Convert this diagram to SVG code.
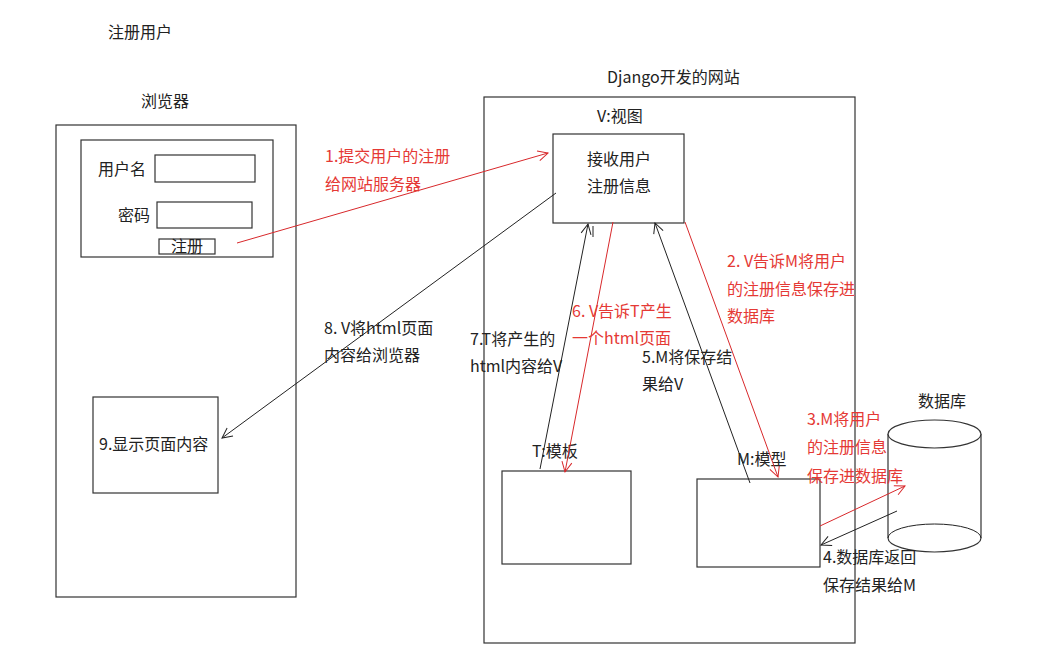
<svg xmlns="http://www.w3.org/2000/svg" width="1039" height="667" viewBox="0 0 1039 667">
  <style>
    text { font-family: "Noto Sans CJK SC", "Noto Sans", sans-serif; font-size: 16px; fill: #222; }
    text.red { fill: #e53935; }
    .box { fill: #fff; stroke: #333; stroke-width: 1.2; }
    .ln { fill: none; stroke: #222; stroke-width: 1; }
    .lr { fill: none; stroke: #d8282b; stroke-width: 1; }
  </style>
  <defs>
    <marker id="ah-k" viewBox="0 0 12 12" refX="11" refY="6" markerWidth="12" markerHeight="12" markerUnits="userSpaceOnUse" orient="auto">
      <path d="M1,1 L11,6 L1,11" fill="none" stroke="#222" stroke-width="1"/>
    </marker>
    <marker id="ah-r" viewBox="0 0 12 12" refX="11" refY="6" markerWidth="12" markerHeight="12" markerUnits="userSpaceOnUse" orient="auto">
      <path d="M1,1 L11,6 L1,11" fill="none" stroke="#d8282b" stroke-width="1"/>
    </marker>
  </defs>
  <rect width="1039" height="667" fill="#fff"/>

  <text x="108" y="38">注册用户</text>

  <!-- browser side -->
  <g id="browser">
    <text x="141" y="107">浏览器</text>
    <rect class="box" x="56" y="125" width="240" height="472"/>
  </g>
  <g id="form">
    <rect class="box" x="81" y="140" width="192" height="117"/>
    <text x="98" y="175">用户名</text>
    <rect class="box" x="155" y="155" width="100" height="27"/>
    <text x="118" y="221">密码</text>
    <rect class="box" x="157" y="202" width="95" height="26"/>
    <rect class="box" x="159" y="239" width="56" height="15"/>
    <text x="171" y="252">注册</text>
  </g>
  <g id="display">
    <rect class="box" x="93" y="397" width="125" height="96"/>
    <text x="99" y="450">9.显示页面内容</text>
  </g>

  <!-- site side -->
  <g id="site">
    <text x="607" y="83">Django开发的网站</text>
    <rect class="box" x="484" y="97" width="371" height="546"/>
  </g>
  <g id="view">
    <text x="597" y="122">V:视图</text>
    <rect class="box" x="553" y="134" width="131" height="89"/>
    <text x="587" y="165">接收用户</text>
    <text x="587" y="192">注册信息</text>
  </g>
  <g id="template">
    <text x="532" y="457">T:模板</text>
    <rect class="box" x="502" y="471" width="129" height="93"/>
  </g>
  <g id="model">
    <text x="737" y="465">M:模型</text>
    <rect class="box" x="697" y="479" width="123" height="88"/>
  </g>
  <g id="database">
    <text x="918" y="407">数据库</text>
    <path class="box" d="M888,434 L888,538 A46.5,14 0 0 0 981,538 L981,434"/>
    <ellipse class="box" cx="934.5" cy="434" rx="46.5" ry="14"/>
    <path class="ln" d="M888,538 A46.5,14 0 0 1 981,538"/>
  </g>

  <!-- connectors -->
  <g id="connectors">
    <line class="lr" x1="237" y1="243" x2="548" y2="153" marker-end="url(#ah-r)"/>
    <line class="ln" x1="556" y1="193" x2="222" y2="438" marker-end="url(#ah-k)"/>
    <line class="lr" x1="685" y1="222" x2="778" y2="477" marker-end="url(#ah-r)"/>
    <line class="lr" x1="820" y1="526" x2="905" y2="486" marker-end="url(#ah-r)"/>
    <line class="ln" x1="897" y1="511" x2="821" y2="545" marker-end="url(#ah-k)"/>
    <line class="ln" x1="750" y1="483" x2="655" y2="223" marker-end="url(#ah-k)"/>
    <line class="lr" x1="613" y1="222" x2="565" y2="472" marker-end="url(#ah-r)"/>
    <line class="ln" x1="540" y1="469" x2="588" y2="224" marker-end="url(#ah-k)"/>
    <line class="ln" x1="593" y1="226" x2="593" y2="237"/>
  </g>

  <!-- connector labels -->
  <g id="labels">
    <text class="red" x="325" y="162">1.提交用户的注册</text>
    <text class="red" x="325" y="190">给网站服务器</text>
    <text x="324" y="334">8. V将html页面</text>
    <text x="324" y="361">内容给浏览器</text>
    <text x="470" y="345">7.T将产生的</text>
    <text x="470" y="372">html内容给V</text>
    <text class="red" x="572" y="317">6. V告诉T产生</text>
    <text class="red" x="572" y="344">一个html页面</text>
    <text x="642" y="363">5.M将保存结</text>
    <text x="642" y="390">果给V</text>
    <text class="red" x="727" y="267">2. V告诉M将用户</text>
    <text class="red" x="727" y="295">的注册信息保存进</text>
    <text class="red" x="727" y="322">数据库</text>
    <text class="red" x="807" y="425">3.M将用户</text>
    <text class="red" x="807" y="453">的注册信息</text>
    <text class="red" x="807" y="482">保存进数据库</text>
    <text x="823" y="563">4.数据库返回</text>
    <text x="823" y="591">保存结果给M</text>
  </g>
</svg>
